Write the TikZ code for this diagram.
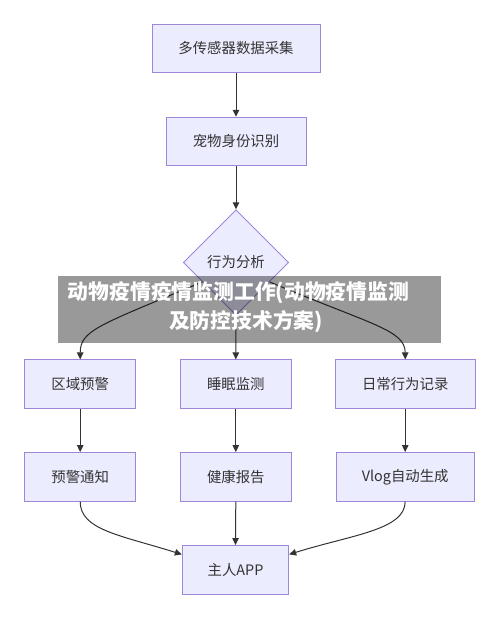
\documentclass[tikz,border=0pt]{standalone}
\usepackage{fontspec}
\setmainfont{Noto Sans CJK SC}
\usetikzlibrary{shapes.geometric,arrows.meta}
\definecolor{boxfill}{HTML}{ECECFF}
\definecolor{boxline}{HTML}{9F86DB}
\definecolor{linec}{HTML}{333333}
\tikzset{
  box/.style={draw=boxline, fill=boxfill, line width=1pt, inner sep=0pt,
    minimum height=48.5pt, text=linec, font=\fontsize{14.4pt}{16pt}\selectfont},
  dia/.style={diamond, draw=boxline, fill=boxfill, line width=1pt, inner sep=0pt,
    minimum width=105.4pt, minimum height=105.4pt, text=linec, font=\fontsize{14.4pt}{16pt}\selectfont},
  conn/.style={draw=linec, line width=1pt, -{Triangle[length=7pt,width=6.5pt]}},
  bandtext/.style={text=white, font=\fontsize{20.8pt}{24pt}\selectfont\bfseries, inner sep=0pt}
}
\begin{document}
\begin{tikzpicture}[x=1pt,y=-1pt]
\useasboundingbox (0,0) rectangle (500,619);
\node[box, minimum width=168pt] (sense) at (236,48.5) {多传感器数据采集};
\node[box, minimum width=140pt] (pid) at (236,141.5) {宠物身份识别};
\node[dia] (beh) at (236,262.5) {行为分析};
\node[box, minimum width=111pt] (area) at (80.2,384.2) {区域预警};
\node[box, minimum width=111pt] (sleep) at (235.8,384.2) {睡眠监测};
\node[box, minimum width=140pt] (daily) at (405.2,384.2) {日常行为记录};
\node[box, minimum width=111pt] (warn) at (80.2,476.8) {预警通知};
\node[box, minimum width=111pt] (health) at (235.8,476.8) {健康报告};
\node[box, minimum width=138.3pt] (vlog) at (405.2,476.8) {Vlog自动生成};
\node[box, minimum width=106.4pt] (app) at (235.5,569.8) {主人APP};

\draw[conn] (sense.south) -- (pid.north);
\draw[conn] (pid.south) -- (beh.north);
\draw[conn] (beh.-150) .. controls (100,325) and (80.2,330) .. (area.north);
\draw[conn] (beh.south) -- (sleep.north);
\draw[conn] (beh.-30) .. controls (372,325) and (405.2,330) .. (daily.north);
\draw[conn] (area.south) -- (warn.north);
\draw[conn] (sleep.south) -- (health.north);
\draw[conn] (daily.south) -- (vlog.north);
\draw[conn] (warn.south) .. controls (80.2,530) and (120,535) .. (app.164);
\draw[conn] (health.south) -- (app.north);
\draw[conn] (vlog.south) .. controls (405.2,530) and (351,535) .. (app.16);

\fill[black, opacity=0.4] (58,276) rectangle (441,343);
\node[bandtext] (t1) at (238.5,293) {动物疫情疫情监测工作(动物疫情监测};
\node[bandtext] (t2) at (246,322) {及防控技术方案)};
\end{tikzpicture}
\end{document}
